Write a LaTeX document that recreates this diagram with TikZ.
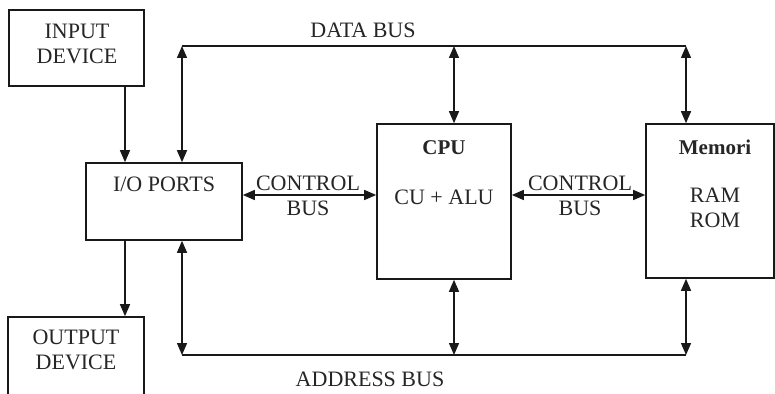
\documentclass[tikz,border=0pt]{standalone}
\usepackage{fontspec}
\setmainfont{Liberation Serif}
\usetikzlibrary{arrows.meta}
\tikzset{
  box/.style={draw=black!90, line width=1.6pt, fill=none, inner sep=0pt},
  txt/.style={align=center, inner sep=0pt, text=black!85, font=\fontsize{22}{25}\selectfont},
  btxt/.style={txt, font=\fontsize{21}{25}\selectfont\bfseries},
  conn/.style={draw=black!90, line width=1.4pt},
  tip/.style={-{Triangle[length=12pt,width=10pt]}},
  dtip/.style={{Triangle[length=12pt,width=10pt]}-{Triangle[length=12pt,width=10pt]}},
}
\begin{document}
\begin{tikzpicture}[x=1pt,y=-1pt]
\clip (0,0) rectangle (775,393);
\fill[white] (0,0) rectangle (775,393);
% boxes
\node[box, minimum width=135pt, minimum height=76pt] (in) at (76.5,48) {};
\node[box, minimum width=156pt, minimum height=77pt] (io) at (164,201.5) {};
\node[box, minimum width=136pt, minimum height=90pt] (out) at (76,362) {};
\node[box, minimum width=134pt, minimum height=155pt] (cpu) at (444,201.5) {};
\node[box, minimum width=128pt, minimum height=154pt] (mem) at (710,201) {};
% texts
\node[txt] (tin) at (77,44) {INPUT\\DEVICE};
\node[txt] (tio) at (164,184) {I/O PORTS};
\node[txt] (tout) at (76,350) {OUTPUT\\DEVICE};
\node[btxt] (tcpu) at (444,148) {CPU};
\node[txt] (talu) at (444,197) {CU + ALU};
\node[btxt] (tmem) at (715,147) {Memori};
\node[txt] (tram) at (715,208) {RAM\\ROM};
\node[txt] (tcb1) at (308,196) {CONTROL\\BUS};
\node[txt] (tcb2) at (580,196) {CONTROL\\BUS};
\node[txt] (tdb) at (363,30) {DATA BUS};
\node[txt] (tab) at (370,379) {ADDRESS BUS};
% bus junctions
\coordinate (d1) at (182,46);
\coordinate (d2) at (454,46);
\coordinate (d3) at (686,46);
\coordinate (a1) at (182,355);
\coordinate (a2) at (454,355);
\coordinate (a3) at (686,355);
\coordinate (cb) at (0,195);
\coordinate (iox) at (125,0);
% data bus
\draw[conn] (d1) -- (d3);
\draw[conn, dtip] (io.north -| d1) -- (d1);
\draw[conn, dtip] (cpu.north -| d2) -- (d2);
\draw[conn, dtip] (mem.north -| d3) -- (d3);
% address bus
\draw[conn] (a1) -- (a3);
\draw[conn, dtip] (io.south -| a1) -- (a1);
\draw[conn, dtip] (cpu.south -| a2) -- (a2);
\draw[conn, dtip] (mem.south -| a3) -- (a3);
% control buses
\draw[conn, dtip] (io.east |- cb) -- (cpu.west |- cb);
\draw[conn, dtip] (cpu.east |- cb) -- (mem.west |- cb);
% devices
\draw[conn, tip] (in.south -| iox) -- (io.north -| iox);
\draw[conn, tip] (io.south -| iox) -- (out.north -| iox);
\end{tikzpicture}
\end{document}
